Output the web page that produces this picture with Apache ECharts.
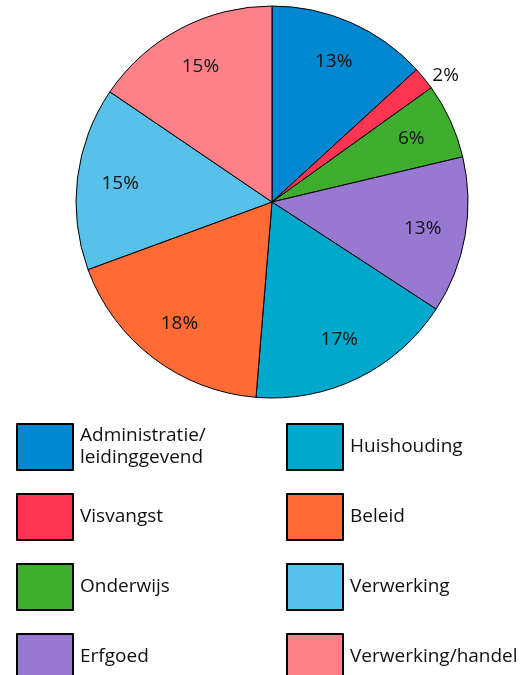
<!DOCTYPE html>
<html>
<head>
<meta charset="utf-8">
<script src="https://cdn.jsdelivr.net/npm/echarts@6/dist/echarts.min.js"></script>
<style>
  html, body { margin: 0; padding: 0; background: #fff; }
  #chart { width: 528px; height: 675px; }
</style>
</head>
<body>
<div id="chart"></div>
<script>
// sectors, clockwise from 12 o'clock
const names = ['Administratie/\nleidinggevend', 'Visvangst', 'Onderwijs', 'Erfgoed',
  'Huishouding', 'Beleid', 'Verwerking', 'Verwerking/handel']
const values = [13.2, 1.9, 6.2, 12.9, 17.1, 18.1, 15.1, 15.5]
const labels = ['13%', '2%', '6%', '13%', '17%', '18%', '15%', '15%']
const colors = ['#0288d1', '#fd3550', '#3fae2e', '#9879d1', '#00a8cc', '#ff6a35', '#58c1e9', '#fe8189']

const font = '"Open Sans", sans-serif'
const center = [272, 202]

const chart = echarts.init(document.getElementById('chart'), null, { renderer: 'canvas' })

const pieData = names.map((n, i) => ({ name: n, value: values[i], itemStyle: { color: colors[i] } }))
// overlay ring only used to put the labels further out
const labelData = names.map((n, i) => {
  const d = { name: n, value: values[i] }
  if (labels[i] === '2%') {
    d.label = { position: 'outside', distance: 4 }
  }
  return d
})

const legendCommon = {
  orient: 'vertical',
  top: 423,
  height: 320,
  padding: 0,
  itemWidth: 56,
  itemHeight: 46,
  itemGap: 22,
  icon: 'rect',
  selectedMode: false,
  textStyle: { fontFamily: font, fontSize: 19, color: '#111', lineHeight: 22, padding: [0, 0, 0, 2] }
}

chart.setOption({
  animation: false,
  legend: [
    Object.assign({ left: 16, data: names.slice(0, 4) }, legendCommon),
    Object.assign({ left: 286, data: names.slice(4) }, legendCommon)
  ],
  series: [{
    type: 'pie',
    center: center,
    radius: [0, 196],
    startAngle: 90,
    clockwise: true,
    label: { show: false },
    labelLine: { show: false },
    emphasis: { disabled: true },
    itemStyle: { borderColor: '#000', borderWidth: 1 },
    data: pieData
  }, {
    type: 'pie',
    center: center,
    radius: [104, 196],
    startAngle: 90,
    clockwise: true,
    silent: true,
    legendHoverLink: false,
    emphasis: { disabled: true },
    itemStyle: { color: 'rgba(0,0,0,0)', borderWidth: 0 },
    label: {
      show: true,
      position: 'inside',
      fontFamily: font,
      fontSize: 19,
      color: '#111',
      formatter: p => labels[p.dataIndex]
    },
    labelLine: { show: false, length: 4, length2: 0 },
    data: labelData
  }]
})
</script>
</body>
</html>
